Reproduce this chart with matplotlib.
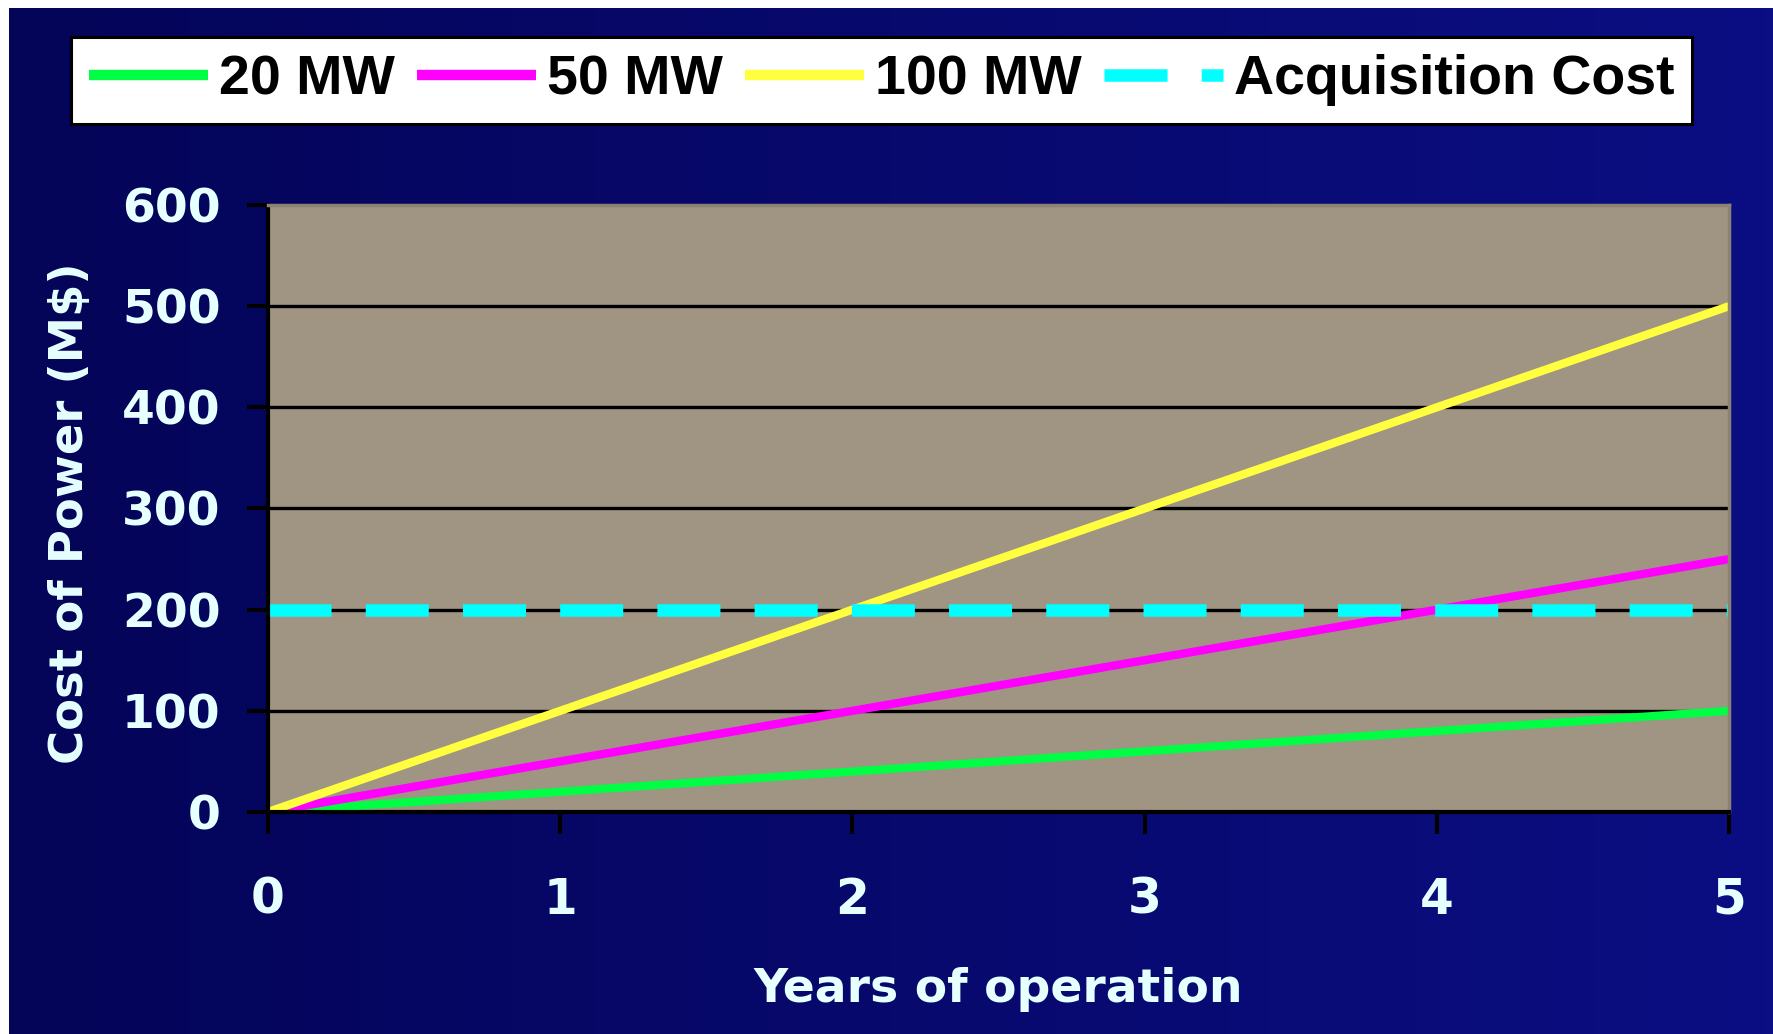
import numpy as np
import matplotlib
matplotlib.use("Agg")
import matplotlib.pyplot as plt

# data
years = [0, 1, 2, 3, 4, 5]
cost_20mw = [0, 20, 40, 60, 80, 100]
cost_50mw = [0, 50, 100, 150, 200, 250]
cost_100mw = [0, 100, 200, 300, 400, 500]
acquisition = [200, 200, 200, 200, 200, 200]
y_ticks = [0, 100, 200, 300, 400, 500, 600]

plt.rcParams['lines.scale_dashes'] = False

W, H = 1773, 1034
fig = plt.figure(figsize=(W / 100, H / 100), dpi=100, facecolor='white')

# navy gradient background (white strip at left/top like the source)
bg = fig.add_axes([9 / W, 0, 1 - 9 / W, 1 - 8 / H], zorder=-10)
grad = np.linspace(0, 1, 256)[None, :]
left_c = np.array([4, 4, 88]) / 255
right_c = np.array([11, 14, 130]) / 255
img = left_c[None, None, :] * (1 - grad[..., None]) + right_c[None, None, :] * grad[..., None]
bg.imshow(img, aspect='auto', extent=[0, 1, 0, 1])
bg.set_axis_off()

ax = fig.add_axes([268 / W, 1 - 812 / H, 1461 / W, 607 / H])
ax.set_facecolor('#A09482')

ax.plot(years, cost_20mw, color='#00FF44', lw=6, label='20 MW', solid_capstyle='butt')
ax.plot(years, cost_50mw, color='#FF00FF', lw=6, label='50 MW', solid_capstyle='butt')
ax.plot(years, cost_100mw, color='#FFFF40', lw=6, label='100 MW', solid_capstyle='butt')
ax.plot(years, acquisition, color='#00FFFF', lw=9, label='Acquisition Cost',
        dashes=(45.4, 24.6), dash_capstyle='butt')

ax.set_xlim(0, 5)
ax.set_ylim(0, 600)
ax.set_xticks(years)
ax.set_yticks(y_ticks)

for v in y_ticks[1:-1]:
    ax.axhline(v, color='black', lw=2.4, zorder=1.5)

for s in ['top', 'right']:
    ax.spines[s].set_color('#8C8272')
    ax.spines[s].set_linewidth(2.5)
for s in ['left', 'bottom']:
    ax.spines[s].set_color('black')
    ax.spines[s].set_linewidth(3)

lab_col = '#E6FFFF'
ax.tick_params(axis='y', direction='out', length=15, width=3, pad=19, color='black',
               labelcolor=lab_col, labelsize=34)
ax.tick_params(axis='x', direction='out', length=16, width=3, pad=30, color='black',
               labelcolor=lab_col, labelsize=35)
for t in ax.get_xticklabels() + ax.get_yticklabels():
    t.set_fontfamily('DejaVu Sans')
    t.set_fontweight('bold')

ax.set_xlabel('Years of operation', fontsize=34, fontweight='bold', color=lab_col,
              family='DejaVu Sans')
ax.xaxis.set_label_coords(0.5, -0.2554)
ax.set_ylabel('Cost of Power (M$)', fontsize=33.5, fontweight='bold', color=lab_col,
              family='DejaVu Sans', va='center')
ax.yaxis.set_label_coords(-0.1352, 0.4926)

leg = fig.legend(loc='center', bbox_to_anchor=(881.5 / W, 1 - 80.5 / H), ncol=4,
                 frameon=True, fancybox=False, edgecolor='black', facecolor='white',
                 framealpha=1, handlelength=2.14, handletextpad=0.2, columnspacing=0.4,
                 borderpad=0.32, prop={'family': 'Liberation Sans', 'weight': 'bold', 'size': 40})
leg.get_frame().set_linewidth(2.2)
for ln in leg.get_lines()[:3]:
    ln.set_linewidth(7.5)

fig.savefig('out.png', dpi=100, facecolor=fig.get_facecolor())
